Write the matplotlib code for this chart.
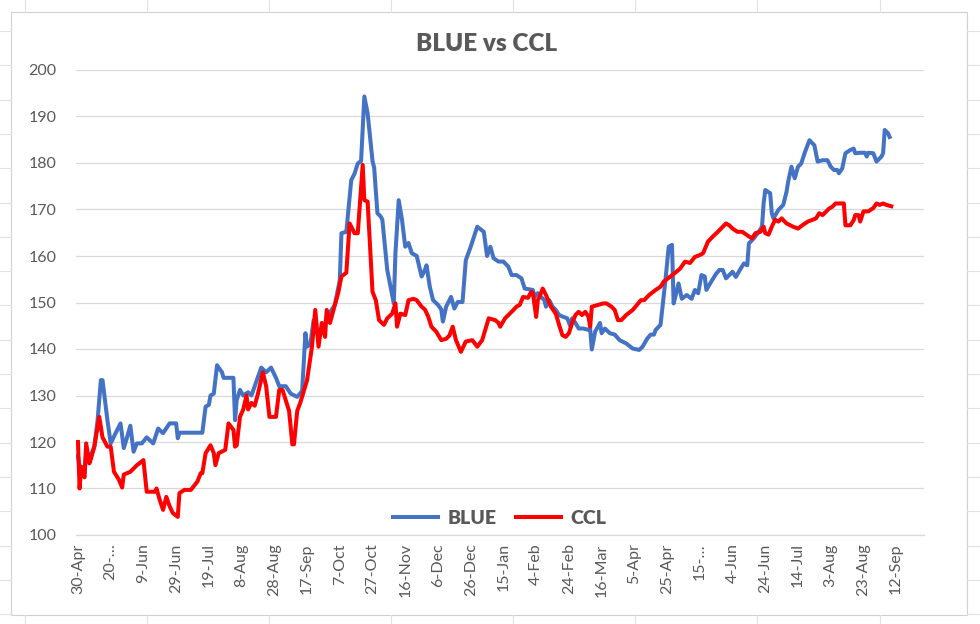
import matplotlib
matplotlib.use("Agg")
import matplotlib.pyplot as plt
from matplotlib.lines import Line2D
from matplotlib.patches import Rectangle
import numpy as np
import pandas as pd

plt.rcParams['font.family'] = ['Lato', 'DejaVu Sans']

start = pd.Timestamp("2020-04-30")

# days after 30-Apr-2020 and the quote
blue_days = [0, 1, 4, 5, 8, 10, 12, 14, 15, 18, 20, 23, 26, 28, 30, 32, 34, 36, 39, 42,
             46, 49, 52, 56, 60, 61, 62, 76, 78, 80, 81, 83, 85, 88, 89, 95, 96, 97, 99, 101,
             104, 106, 112, 115, 118, 121, 123, 127, 130, 134, 137, 139, 140, 142, 144, 147, 150, 152, 155, 157,
             160, 161, 164, 167, 169, 171, 173, 175, 177, 180, 181, 183, 185, 186, 189, 193, 194, 196, 198, 200,
             202, 204, 207, 210, 212, 213, 215, 217, 220, 222, 223, 225, 228, 230, 232, 235, 237, 240, 244, 248,
             250, 252, 254, 257, 260, 263, 265, 268, 271, 273, 278, 279, 281, 283, 285, 286, 288, 290, 292, 294,
             296, 299, 301, 302, 304, 306, 309, 312, 313, 314, 316, 319, 320, 322, 325, 328, 331, 335, 339, 343,
             345, 348, 350, 352, 353, 356, 357, 359, 361, 363, 364, 365, 367, 369, 372, 375, 377, 379, 381, 383,
             384, 387, 390, 392, 394, 396, 398, 400, 402, 405, 407, 409, 410, 413, 416, 418, 419, 420, 423, 424,
             425, 428, 431, 433, 434, 436, 438, 440, 442, 444, 447, 450, 452, 455, 458, 460, 462, 464, 465, 467,
             469, 472, 474, 475, 478, 481, 482, 483, 486, 488, 491, 492, 493, 495, 496]
blue_vals = [117, 114.7, 113.3, 117.6, 117.3, 119, 124.7, 133.3, 133.3, 124.7, 119.7, 121.9, 124, 118.7, 121, 123.5, 117.9, 119.7, 119.7, 121,
             119.7, 122.9, 121.9, 124, 124, 120.8, 122, 122, 127.6, 128, 130, 130.4, 136.5, 135, 133.8, 133.8, 124.7, 129, 131.2, 130,
             130.7, 130, 136, 135, 136, 133.8, 132, 132, 130.4, 129.7, 131, 143.4, 140.5, 141, 146.2, 142.6, 144.1, 146.9, 148.4, 149.5,
             154.8, 164.9, 165.2, 176.3, 177.7, 179.9, 180.4, 194.3, 190.7, 180.4, 179, 169.2, 168.5, 167.8, 157, 149.8, 160.6, 172, 167.8, 162,
             162.8, 160.6, 160, 155.6, 157, 158, 153.4, 150.5, 149.5, 148.5, 145.9, 149.1, 151.2, 148.7, 150.1, 150.1, 159.1, 162, 166.3, 165.2,
             160, 162, 159.5, 158.8, 158.8, 157.7, 155.9, 155.9, 155.2, 153, 152.7, 151.2, 152, 151.2, 150.5, 149.1, 150.5, 149.1, 148.4, 147.3,
             147, 146.6, 144.8, 146.6, 145.6, 144.4, 144.4, 144.1, 144.4, 139.9, 143.7, 145.6, 143.4, 144.4, 143.4, 143.1, 141.9, 141.2, 140.1, 139.8,
             140.5, 142.3, 143.1, 143.1, 144.1, 145.2, 148.4, 154.8, 162, 162.4, 149.8, 151.2, 154.1, 150.8, 151.6, 150.8, 152.7, 152, 155.9, 155.6,
             152.7, 154.5, 156.2, 157, 157, 155.2, 155.9, 156.6, 155.5, 157.3, 158.4, 158, 162.7, 163.8, 165.2, 166.3, 171.3, 174.2, 173.5, 169.2,
             168.1, 169.9, 171, 173.8, 176, 179.2, 176.7, 179.2, 179.9, 182.1, 184.9, 183.8, 180.3, 180.6, 180.6, 179.2, 178.5, 178.5, 177.8, 178.8,
             182.1, 182.8, 183.1, 182.1, 182.2, 182.2, 181.4, 182.2, 182.1, 180.3, 181.4, 182.1, 187.1, 186.4, 185.6]

ccl_days = [0, 1, 2, 4, 5, 7, 8, 10, 13, 15, 18, 20, 22, 25, 27, 28, 32, 36, 40, 42,
            47, 48, 50, 52, 54, 56, 58, 61, 62, 65, 69, 73, 75, 76, 78, 81, 83, 84, 86, 90,
            92, 95, 96, 97, 99, 101, 103, 104, 106, 108, 110, 113, 115, 117, 121, 123, 125, 129, 131, 132,
            134, 136, 140, 143, 145, 147, 149, 151, 152, 154, 157, 159, 161, 164, 166, 169, 171, 174, 175, 177,
            180, 182, 184, 187, 189, 192, 194, 195, 197, 200, 202, 205, 207, 210, 212, 214, 216, 219, 222, 225,
            227, 229, 231, 234, 237, 241, 244, 247, 251, 255, 257, 258, 261, 265, 268, 270, 272, 275, 277, 278,
            280, 281, 282, 284, 286, 289, 292, 294, 296, 298, 300, 302, 304, 306, 308, 310, 312, 313, 314, 318,
            321, 323, 326, 328, 330, 332, 335, 339, 344, 346, 349, 353, 356, 358, 362, 365, 368, 371, 374, 377,
            380, 382, 385, 388, 391, 394, 396, 398, 400, 403, 406, 410, 412, 414, 417, 419, 420, 422, 424, 426,
            428, 430, 433, 437, 440, 443, 446, 449, 451, 453, 455, 459, 461, 463, 468, 469, 472, 474, 475, 477,
            478, 480, 483, 486, 488, 490, 492, 494, 497]
ccl_vals = [120, 110, 114.7, 112.4, 119.7, 115.4, 116.5, 119, 125.4, 121, 119, 119, 113.6, 111.9, 110.2, 113, 113.6, 115, 116.1, 109.3,
            109.3, 110, 107.5, 105.4, 108.2, 106.2, 104.7, 103.9, 109, 109.7, 109.7, 111.5, 113.3, 113.3, 117.6, 119.3, 117.6, 115, 117.6, 118.3,
            124, 122.6, 119, 119.3, 125.4, 127, 130, 127, 128.4, 127.8, 130.4, 135, 132, 125.4, 125.4, 131.2, 131.2, 126.7, 119.5, 119.5,
            126.7, 128.6, 133.3, 140.5, 148.4, 140.5, 145.6, 142.6, 148.4, 145.6, 149.5, 152, 155.6, 156.4, 167, 164.9, 164.9, 179.6, 172, 171.7,
            152.3, 150.5, 146.2, 145.2, 146.6, 147.6, 149.8, 144.8, 147.6, 147.3, 150.5, 150.8, 150.5, 149.1, 148.5, 147, 144.8, 143.7, 141.9, 142.2,
            142.9, 144.8, 141.9, 139.4, 141.6, 141.9, 140.5, 141.9, 146.6, 146.2, 145.6, 144.8, 146.6, 148, 149.1, 149.5, 151.2, 151, 152.3, 152,
            146.9, 150.5, 151.2, 153, 151.6, 149.1, 147.6, 145.2, 143, 142.6, 143.4, 145.6, 147.3, 148, 147.3, 148, 146.9, 144.8, 149.1, 149.5,
            149.8, 149.8, 149.1, 148.4, 146.2, 146.2, 147.3, 148.4, 150.5, 150.5, 151.6, 152.7, 153.4, 154.5, 155.6, 156.4, 157.3, 158.8, 158.5, 159.8,
            160.2, 160.6, 163.1, 164.2, 165.2, 166.3, 167, 166.6, 165.9, 165.2, 165.2, 164.2, 163.8, 164.9, 165.2, 166.3, 164.9, 164.6, 166.3, 167.8,
            167.4, 168.1, 167, 166.3, 165.9, 166.7, 167.4, 167.8, 168.1, 169.2, 168.8, 170.2, 170.6, 171.3, 171.3, 166.6, 166.6, 167.7, 168.8, 168.8,
            167.4, 169.6, 169.6, 170.3, 171.3, 171, 171.3, 171, 170.7]

tick_labels = ["30-Apr", "20-…", "9-Jun", "29-Jun", "19-Jul", "8-Aug", "28-Aug", "17-Sep", "7-Oct",
               "27-Oct", "16-Nov", "6-Dec", "26-Dec", "15-Jan", "4-Feb", "24-Feb", "16-Mar", "5-Apr",
               "25-Apr", "15-…", "4-Jun", "24-Jun", "14-Jul", "3-Aug", "23-Aug", "12-Sep"]

blue_dates = start + pd.to_timedelta(blue_days, unit="D")
ccl_dates = start + pd.to_timedelta(ccl_days, unit="D")
tick_dates = pd.date_range(start, periods=len(tick_labels), freq="20D")

txt = "#595959"
grid = "#D9D9D9"

fig = plt.figure(figsize=(9.8, 6.24), dpi=100)
fig.patch.set_facecolor("white")

# spreadsheet cells around the chart object
W, H = 980.0, 624.0
for x in [25, 147, 269, 391, 513, 635, 757, 880]:
    fig.add_artist(Line2D([x / W, x / W], [1 - 12 / H, 1], color="#E1E1E1", lw=0.8))
    fig.add_artist(Line2D([x / W, x / W], [0, 1 - 615 / H], color="#E1E1E1", lw=0.8))
for y in np.arange(31, 620, 34.3):
    fig.add_artist(Line2D([0, 11 / W], [1 - y / H, 1 - y / H], color="#E1E1E1", lw=0.8))
    fig.add_artist(Line2D([967 / W, 1], [1 - y / H, 1 - y / H], color="#E1E1E1", lw=0.8))
fig.add_artist(Rectangle((11 / W, 1 - 615 / H), 956 / W, 603 / H, facecolor="white",
                         edgecolor="#D0D0D0", lw=0.8, zorder=0))

ax = fig.add_axes([76 / W, 1 - 535 / H, 848 / W, 465 / H])
ax.set_facecolor("none")

ax.plot(blue_dates, blue_vals, color="#4472C4", lw=2.9, label="BLUE", solid_joinstyle="round")
ax.plot(ccl_dates, ccl_vals, color="#FF0000", lw=2.9, label="CCL", solid_joinstyle="round")

ax.set_ylim(100, 200)
ax.set_yticks(np.arange(100, 201, 10))
ax.set_xlim(start - pd.Timedelta(days=1.2), start + pd.Timedelta(days=517))
ax.set_xticks(tick_dates)
ax.set_xticklabels(tick_labels, rotation=90)

ax.grid(axis="y", color=grid, lw=0.9)
ax.set_axisbelow(True)
for s in ["top", "right", "left"]:
    ax.spines[s].set_visible(False)
ax.spines["bottom"].set_color(grid)
ax.spines["bottom"].set_linewidth(0.9)
ax.tick_params(axis="both", length=0, colors=txt, labelsize=11.5)
ax.tick_params(axis="y", pad=14)
ax.tick_params(axis="x", pad=6)

fig.text(487 / W, 1 - 44 / H, "BLUE vs CCL", ha="center", va="center",
         fontsize=17.5, fontweight="heavy", color=txt)

leg = ax.legend(loc="center", bbox_to_anchor=(0.5, 0.035), ncol=2, frameon=False,
                handlelength=2.3, columnspacing=1.0, handletextpad=0.5,
                prop={"weight": "heavy", "size": 14})
for t in leg.get_texts():
    t.set_color(txt)

fig.savefig("out.png", dpi=100)
